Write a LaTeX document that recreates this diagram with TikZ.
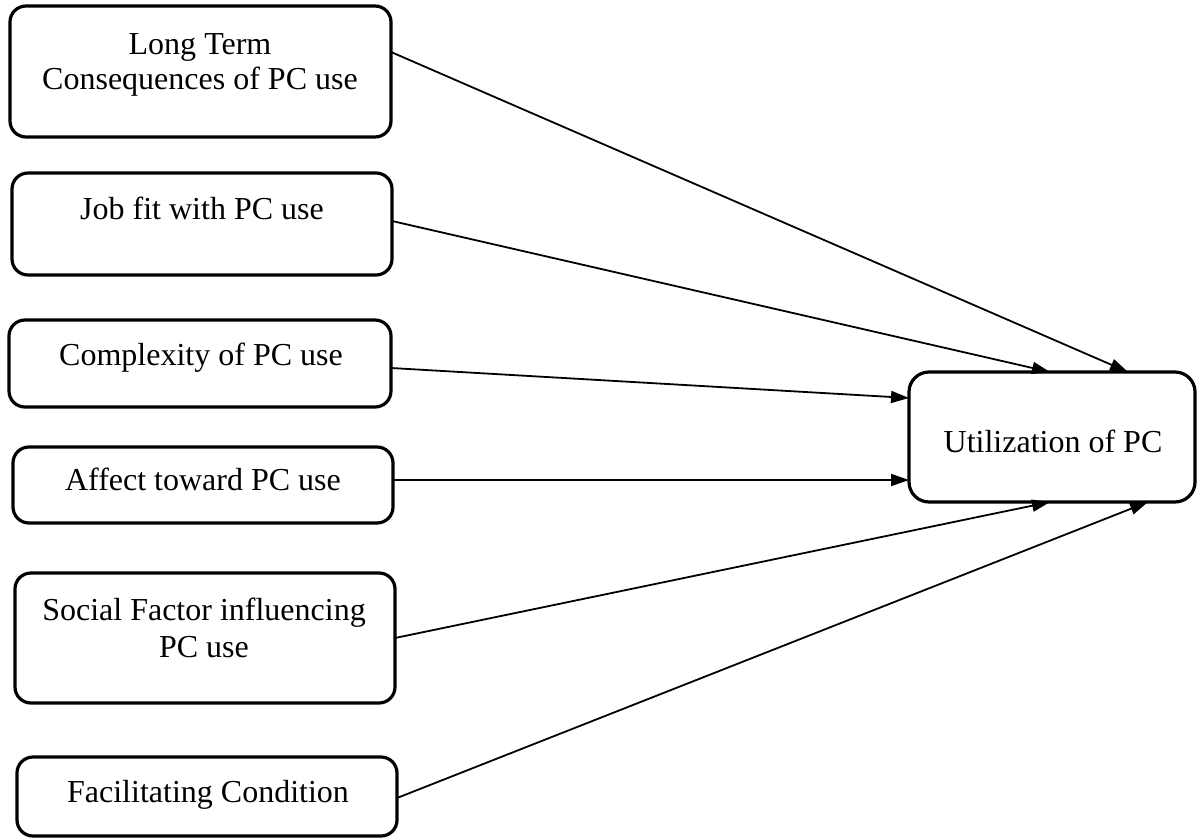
\documentclass[tikz,border=0pt]{standalone}
\usepackage{fontspec}
\setmainfont{Liberation Serif}
\usetikzlibrary{calc,arrows.meta}
\begin{document}
\begin{tikzpicture}[x=0.5pt,y=-0.5pt,
  box/.style={draw, line width=1.6pt, rounded corners=8pt, inner sep=0pt, outer sep=0pt},
  txt/.style={anchor=base, inner sep=0pt, font=\fontsize{16pt}{18pt}\selectfont},
  conn/.style={line width=0.9pt, -{Triangle[length=9pt,width=6pt]}}]
\useasboundingbox (0,0) rectangle (1197,839);
% boxes
\node[box, minimum width=190.5pt, minimum height=65.5pt] (b1) at (200.5,71.5) {};
\node[box, minimum width=190pt, minimum height=51pt] (b2) at (202,224) {};
\node[box, minimum width=191pt, minimum height=43.5pt] (b3) at (200,363.5) {};
\node[box, minimum width=190pt, minimum height=38pt] (b4) at (203,485) {};
\node[box, minimum width=190pt, minimum height=65pt] (b5) at (205,638) {};
\node[box, minimum width=190pt, minimum height=39.5pt] (b6) at (207,796.5) {};
\node[box, rounded corners=10pt, minimum width=143pt, minimum height=65pt] (t) at (1052,437) {};
% texts
\node[txt] (l1a) at (200,55) {Long Term};
\node[txt] (l1b) at (200,90) {Consequences of PC use};
\node[txt] (l2) at (202,220) {Job fit with PC use};
\node[txt] (l3) at (201,365) {Complexity of PC use};
\node[txt] (l4) at (203,490) {Affect toward PC use};
\node[txt] (l5a) at (204,620) {Social Factor influencing};
\node[txt] (l5b) at (204,657) {PC use};
\node[txt] (l6) at (208,802) {Facilitating Condition};
\node[txt] (lt) at (1053,452) {Utilization of PC};
% connectors
\draw[conn] ($(b1.east)+(0,-19.5)$) -- ($(t.north)+(76,0)$);
\draw[conn] ($(b2.east)+(0,-3)$) -- ($(t.north)+(-2,0)$);
\draw[conn] ($(b3.east)+(0,4.5)$) -- ($(t.west)+(0,-39)$);
\draw[conn] ($(b4.east)+(0,-5)$) -- ($(t.west)+(0,43)$);
\draw[conn] (b5.east) -- ($(t.south)+(-2,0)$);
\draw[conn] ($(b6.east)+(0,1.5)$) -- ($(t.south)+(96,0)$);
\end{tikzpicture}
\end{document}
